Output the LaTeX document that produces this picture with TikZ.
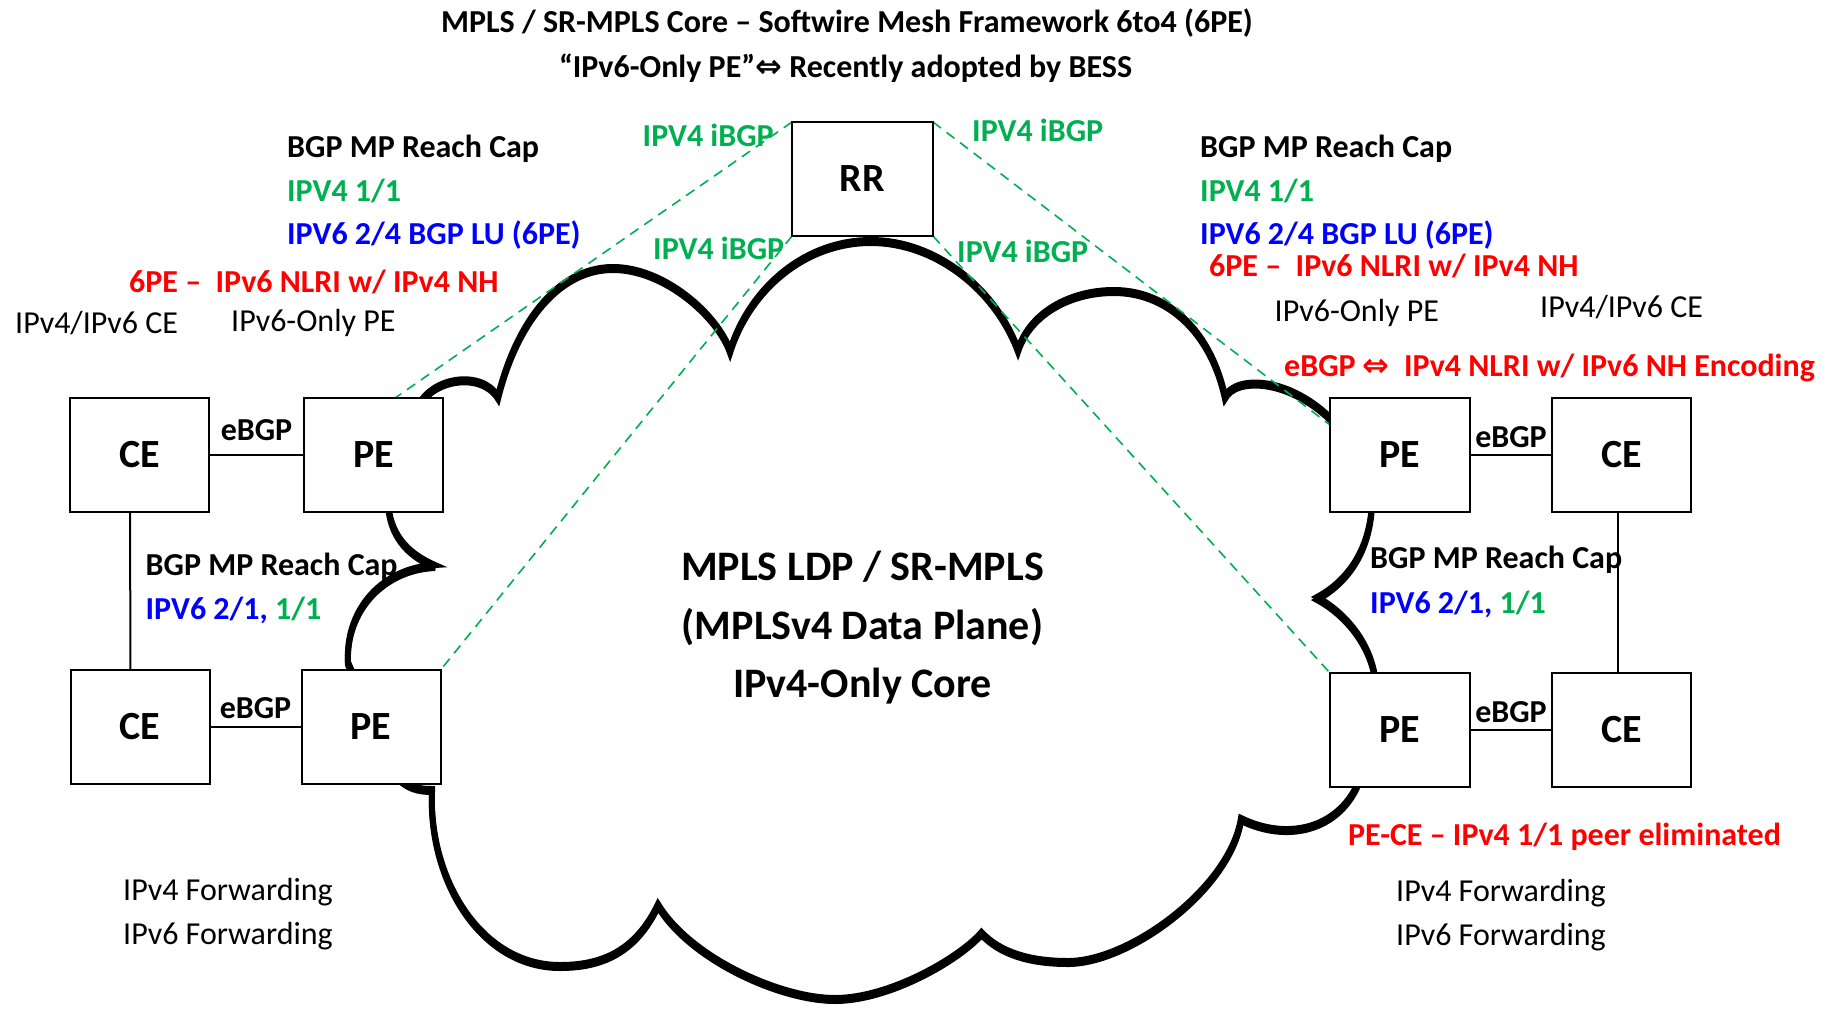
\documentclass[tikz,border=0pt]{standalone}
\usepackage{fontspec}
\setmainfont{Carlito}
\newfontfamily\symfnt{DejaVu Sans}
\usetikzlibrary{calc}
\definecolor{ogreen}{RGB}{0,176,80}
\definecolor{oblue}{RGB}{0,0,255}
\definecolor{ored}{RGB}{255,0,0}
\newcommand\lblfont{\fontsize{32}{38}\selectfont}
\newcommand\boxfnt{\fontsize{40}{48}\selectfont\bfseries}
\newcommand\cloudfnt{\fontsize{42}{58.5}\selectfont\bfseries}
\newcommand\darrow{{\symfnt ⇔}}
\tikzset{
  box/.style={draw, line width=2, fill=white, minimum width=137, minimum height=112, inner sep=0, font=\boxfnt},
  lab/.style={anchor=base west, inner sep=0, font=\lblfont},
  blab/.style={anchor=base west, inner sep=0, font=\lblfont\bfseries},
  ibgpline/.style={draw=ogreen, line width=1.6, dash pattern=on 10pt off 7pt},
  link/.style={line width=2},
  cloudline/.style={line width=6, line join=miter, miter limit=4,
     preaction={draw, line width=6, transform canvas={yshift=3pt}}},
  elab/.style={inner sep=0, font=\lblfont\bfseries}
}
\begin{document}
\begin{tikzpicture}[x=1pt,y=-1pt]
\useasboundingbox (0,0) rectangle (1835,1009);

% cloud
\draw[cloudline] (415,415) .. controls (428,378) and (482,372) .. (498,399)
 .. controls (515,330) and (555,270) .. (613,270)
 .. controls (665,270) and (718,318) .. (730,353)
 .. controls (750,290) and (805,243) .. (871,243)
 .. controls (935,243) and (995,290) .. (1018,352)
 .. controls (1030,315) and (1070,293) .. (1114,293)
 .. controls (1165,293) and (1210,330) .. (1225,399)
 .. controls (1235,378) and (1290,378) .. (1335,425)
 -- (1372,505)
 .. controls (1370,555) and (1345,585) .. (1317,600)
 .. controls (1345,615) and (1370,645) .. (1375,680)
 -- (1362,775)
 .. controls (1345,830) and (1290,845) .. (1241,821)
 .. controls (1230,890) and (1130,964) .. (1068,964)
 .. controls (1030,964) and (1000,955) .. (981.5,935)
 .. controls (960,960) and (890,1001) .. (835,1001)
 .. controls (780,1001) and (690,960) .. (658,907)
 .. controls (635,955) and (600,968) .. (560,968)
 .. controls (480,968) and (428,880) .. (432,792)
 .. controls (420,792) and (405,790) .. (395,775)
 -- (348,665)
 .. controls (345,610) and (385,570) .. (435,568)
 .. controls (405,555) and (390,535) .. (388,505)
 -- cycle;

% boxes (positions)
\node[box] (ce1) at (139.5,455) {CE};
\node[box] (pe1) at (373.5,455) {PE};
\node[box] (ce2) at (140,727) {CE};
\node[box] (pe2) at (371,727) {PE};
\node[box, minimum width=139] (rr) at (862.5,179) {RR};
\node[box, minimum width=138] (pe3) at (1400,455) {PE};
\node[box] (ce3) at (1621.5,455) {CE};
\node[box, minimum width=138] (pe4) at (1400,730) {PE};
\node[box] (ce4) at (1621.5,730) {CE};

% iBGP dashed sessions
\draw[ibgpline] (rr.north west) -- ([xshift=21.5pt]pe1.north);
\draw[ibgpline] (rr.south west) -- (pe2.north east);
\draw[ibgpline] (rr.north east) -- ([yshift=30pt]pe3.west);
\draw[ibgpline] (rr.south east) -- (pe4.north west);

% redraw boxes on top
\foreach \n/\t in {ce1/CE,pe1/PE,ce2/CE,pe2/PE,rr/RR,pe3/PE,ce3/CE,pe4/PE,ce4/CE}{
  \draw[line width=2, fill=white] (\n.south west) rectangle (\n.north east);
  \node[font=\boxfnt, inner sep=0] at (\n.center) {\t};
}

% links
\draw[link] (ce1) -- node[elab, above=13pt] {eBGP} (pe1);
\draw[link] (ce2) -- node[elab, above=7pt] {eBGP} (pe2);
\draw[link] (pe3) -- node[elab, above=6pt] {eBGP} (ce3);
\draw[link] (pe4) -- node[elab, above=6pt] {eBGP} (ce4);
\draw[link] ([xshift=-9.5pt]ce1.south) -- ([xshift=-9.5pt]ce2.north);
\draw[link] ([xshift=-3.5pt]ce3.south) -- ([xshift=-3.5pt]ce4.north);

% titles
\node[inner sep=0, anchor=base, font=\lblfont\bfseries] (t1) at (847,32.5) {MPLS / SR-MPLS Core – Softwire Mesh Framework 6to4 (6PE)};
\node[inner sep=0, anchor=base, font=\lblfont\bfseries] (t2) at (845.5,77) {“IPv6-Only PE”\darrow\ Recently adopted by BESS};

% left labels
\node[blab] (lb1) at (287,157) {BGP MP Reach Cap};
\node[blab, text=ogreen] (lb2) at (287,201) {IPV4 1/1};
\node[blab, text=oblue] (lb3) at (287,244) {IPV6 2/4 BGP LU (6PE)};
\node[blab, text=ored] (lb4) at (129,292) {6PE –\ \ IPv6 NLRI w/ IPv4 NH};
\node[lab] (lb5) at (15,333) {IPv4/IPv6 CE};
\node[lab] (lb6) at (231,331) {IPv6-Only PE};

% iBGP labels
\node[blab, text=ogreen] (ib1) at (642.5,146) {IPV4 iBGP};
\node[blab, text=ogreen] (ib2) at (972,141.5) {IPV4 iBGP};
\node[blab, text=ogreen] (ib3) at (653,259.5) {IPV4 iBGP};
\node[blab, text=ogreen] (ib4) at (957,262) {IPV4 iBGP};

% right labels
\node[blab] (rb1) at (1200,157) {BGP MP Reach Cap};
\node[blab, text=ogreen] (rb2) at (1200,201) {IPV4 1/1};
\node[blab, text=oblue] (rb3) at (1200,244) {IPV6 2/4 BGP LU (6PE)};
\node[blab, text=ored] (rb4) at (1209,276) {6PE –\ \ IPv6 NLRI w/ IPv4 NH};
\node[lab] (rb5) at (1274.5,321.5) {IPv6-Only PE};
\node[lab] (rb6) at (1540,317) {IPv4/IPv6 CE};
\node[blab, text=ored] (rb7) at (1284,376) {eBGP \darrow\ \ IPv4 NLRI w/ IPv6 NH Encoding};

% lower labels
\node[blab] (lc1) at (145.5,575) {BGP MP Reach Cap};
\node[blab] (lc2) at (145.5,619.5) {\textcolor{oblue}{IPV6 2/1,} \textcolor{ogreen}{1/1}};
\node[blab] (rc1) at (1370,568) {BGP MP Reach Cap};
\node[blab] (rc2) at (1370,613) {\textcolor{oblue}{IPV6 2/1,} \textcolor{ogreen}{1/1}};
\node[blab, text=ored] (rc3) at (1348,845) {PE-CE – IPv4 1/1 peer eliminated};

\node[lab] (lf1) at (123,900) {IPv4 Forwarding};
\node[lab] (lf2) at (123,944) {IPv6 Forwarding};
\node[lab] (rf1) at (1396,901) {IPv4 Forwarding};
\node[lab] (rf2) at (1396,945) {IPv6 Forwarding};

% cloud text
\node[align=center, font=\cloudfnt, inner sep=0] (core) at (862.5,628) {MPLS LDP / SR-MPLS\\(MPLSv4 Data Plane)\\IPv4-Only Core};
\end{tikzpicture}
\end{document}
